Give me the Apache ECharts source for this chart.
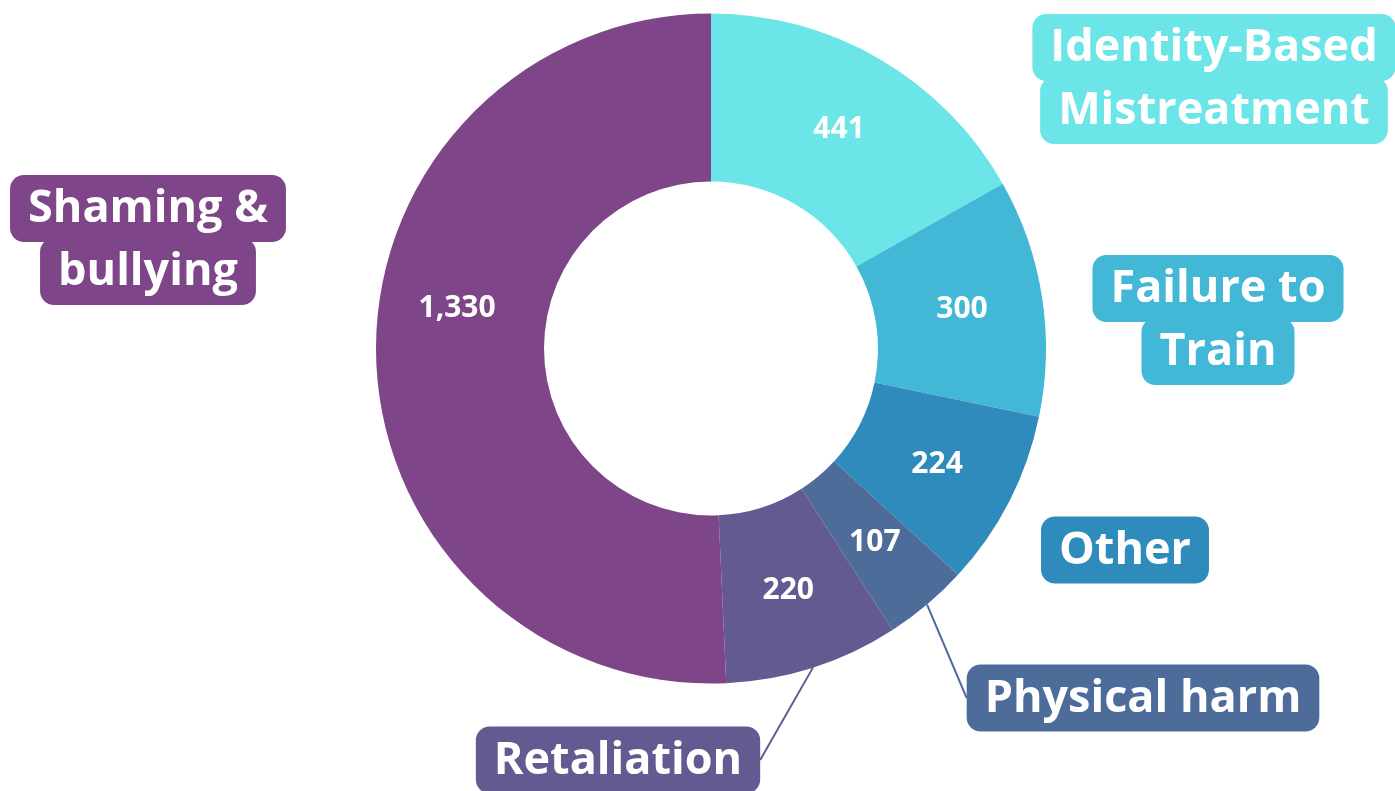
<!DOCTYPE html>
<html>
<head>
<meta charset="utf-8">
<script src="https://cdn.jsdelivr.net/npm/echarts@6/dist/echarts.min.js"></script>
<style>
  html, body { margin: 0; padding: 0; background: #fff; }
  #chart { width: 1395px; height: 791px; }
</style>
</head>
<body>
<div id="chart"></div>
<script>
const categories = [
  ['Identity-Based', 'Mistreatment'],
  ['Failure to', 'Train'],
  ['Other'],
  ['Physical harm'],
  ['Retaliation'],
  ['Shaming &', 'bullying']
];
const values = [441, 300, 224, 107, 220, 1330];
const colors = ['#6be5e8', '#43b7d6', '#2e8bbb', '#4e6c99', '#635a91', '#7e4588'];
const showLine = [false, false, false, true, true, false];

// where the category tags sit (label centres)
const tagSpots = [
  [1214, 79], [1218, 320], [1125, 550], [1143, 698], [618, 760], [148, 240]
];

const chart = echarts.init(document.getElementById('chart'));
const font = '"Open Sans", sans-serif';

const option = {
  animation: false,
  series: [
    {
      type: 'pie',
      center: [711, 348.5],
      radius: [167, 335],
      startAngle: 90,
      clockwise: true,
      silent: true,
      label: {
        show: true,
        position: 'inside',
        color: '#fff',
        fontFamily: font,
        fontWeight: 700,
        fontSize: 30,
        formatter: p => p.value.toLocaleString('en-US')
      },
      labelLayout: p => (p.dataIndex === 5 ? { dy: -46 } : {}),
      labelLine: { show: false },
      data: values.map((v, i) => ({
        value: v,
        name: categories[i].join(' '),
        itemStyle: { color: colors[i] }
      }))
    },
    {
      type: 'pie',
      center: [711, 348.5],
      radius: [167, 335],
      startAngle: 90,
      clockwise: true,
      silent: true,
      itemStyle: { color: 'rgba(0,0,0,0)' },
      label: {
        show: true,
        position: 'outside',
        fontFamily: font,
        fontWeight: 700,
        fontSize: 45,
        color: '#fff',
        align: 'center'
      },
      labelLine: { show: false, length: 20, length2: 0, smooth: false },
      labelLayout: p => ({
        x: tagSpots[p.dataIndex][0],
        y: tagSpots[p.dataIndex][1],
        align: 'center',
        verticalAlign: 'middle'
      }),
      data: values.map((v, i) => ({
        value: v,
        name: categories[i].join(' '),
        label: {
          formatter: categories[i].map(t => '{t|' + t + '}').join('\n'),
          rich: {
            t: {
              color: '#fff',
              fontFamily: font,
              fontWeight: 700,
              fontSize: 45,
              lineHeight: 63,
              padding: [12, 18, 10, 18],
              backgroundColor: colors[i],
              borderRadius: 14
            }
          }
        },
        labelLine: {
          show: showLine[i],
          lineStyle: { color: colors[i], width: 2, opacity: 1 }
        }
      }))
    }
  ]
};

chart.setOption(option);
window.addEventListener('resize', () => chart.resize());
</script>
</body>
</html>
